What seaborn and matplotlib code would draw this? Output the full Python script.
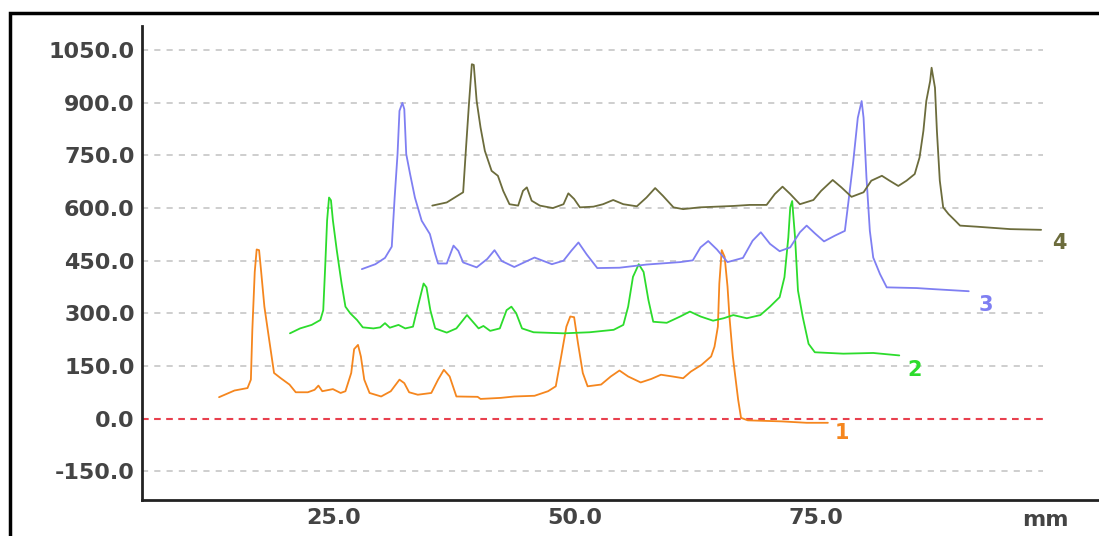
import numpy as np
import matplotlib
matplotlib.use("Agg")
import matplotlib.pyplot as plt
from matplotlib.patches import Rectangle
import seaborn as sns

# trace 1 (orange)
x1 = [13.1, 14.7, 16.05, 16.4, 16.55, 16.8, 17.0, 17.25, 17.45, 17.8, 18.3, 18.8, 19.5, 20.4,
      21.05, 22.3, 23.0, 23.4, 23.8, 24.9, 25.7, 26.2, 26.8, 27.1, 27.5, 27.8, 28.15, 28.7,
      29.9, 30.9, 31.8, 32.3, 32.8, 33.7, 35.1, 35.8, 36.4, 37.0, 37.7, 39.9, 40.2, 42.3,
      43.7, 45.8, 47.2, 48.0, 48.5, 49.1, 49.5, 49.9, 50.3, 50.8, 51.3, 52.7, 53.7, 54.6,
      55.5, 56.8, 57.9, 58.9, 60.1, 61.2, 62.0, 63.1, 64.1, 64.45, 64.8, 64.95, 65.2, 65.5,
      65.8, 66.0, 66.35, 66.9, 67.2, 67.9, 71.4, 74.0, 76.2]
y1 = [61, 80, 87, 111, 253, 418, 482, 480, 423, 319, 224, 130, 115, 97,
      75, 75, 82, 94, 78, 84, 73, 78, 130, 198, 210, 177, 111, 73,
      63, 78, 111, 101, 75, 68, 73, 111, 139, 120, 63, 62, 56, 59,
      63, 65, 78, 92, 168, 262, 291, 289, 215, 130, 92, 97, 120, 137,
      120, 103, 113, 125, 120, 115, 134, 153, 177, 205, 262, 385, 480, 461,
      376, 290, 177, 54, 2, -5, -8, -12, -12]

# trace 2 (green)
x2 = [20.45, 21.5, 22.7, 23.6, 23.9, 24.1, 24.3, 24.5, 24.7, 24.9, 25.3, 25.8, 26.2, 26.7,
      27.4, 28.0, 29.1, 29.8, 30.3, 30.8, 31.7, 32.4, 33.2, 33.7, 34.3, 34.6, 35.0, 35.5,
      36.7, 37.7, 38.8, 39.4, 40.0, 40.5, 41.2, 42.2, 42.9, 43.4, 43.9, 44.5, 45.7, 48.8,
      51.5, 54.0, 55.0, 55.5, 56.0, 56.6, 57.1, 57.6, 58.1, 59.5, 60.9, 61.9, 63.0, 64.3,
      65.4, 66.4, 67.8, 69.2, 70.2, 71.2, 71.7, 72.1, 72.3, 72.5, 72.8, 73.1, 73.6, 74.2,
      74.85, 77.8, 80.9, 83.6]
y2 = [243, 257, 267, 281, 309, 432, 565, 630, 622, 565, 480, 385, 319, 300,
      281, 260, 257, 260, 272, 259, 267, 257, 262, 319, 385, 374, 309, 257,
      245, 257, 295, 276, 257, 264, 250, 257, 309, 319, 300, 257, 246, 243,
      246, 253, 267, 319, 404, 440, 418, 338, 276, 273, 291, 305, 291, 279,
      286, 295, 286, 295, 319, 346, 403, 516, 602, 620, 516, 365, 289, 213,
      189, 185, 187, 180]

# trace 3 (blue)
x3 = [27.9, 29.3, 30.3, 31.0, 31.3, 31.6, 31.8, 32.1, 32.3, 32.5, 32.9, 33.4, 34.1, 34.95,
      35.5, 35.8, 36.7, 37.4, 37.9, 38.4, 39.8, 40.9, 41.65, 42.4, 43.7, 45.8, 47.6, 48.8,
      49.6, 50.35, 51.2, 52.3, 54.6, 57.4, 60.9, 62.2, 63.0, 63.8, 64.7, 65.8, 67.4, 68.4,
      69.25, 70.2, 71.2, 72.3, 73.3, 74.0, 74.85, 75.8, 76.9, 77.96, 78.3, 78.8, 79.3, 79.7,
      79.9, 80.2, 80.55, 80.9, 81.6, 82.3, 85.4, 87.1, 90.8]
y3 = [426, 440, 458, 490, 630, 754, 877, 900, 882, 754, 697, 630, 564, 526,
      469, 442, 442, 493, 478, 445, 431, 455, 480, 449, 432, 459, 440, 450,
      478, 502, 468, 429, 430, 439, 446, 451, 488, 506, 482, 446, 458, 507,
      531, 498, 477, 488, 531, 550, 528, 505, 521, 535, 611, 725, 857, 905,
      857, 687, 535, 459, 412, 374, 372, 369, 363]

# trace 4 (olive)
x4 = [35.2, 36.7, 38.4, 38.7, 39.0, 39.3, 39.5, 39.8, 40.2, 40.65, 41.35, 42.0, 42.55, 43.2,
      44.1, 44.6, 45.0, 45.5, 46.35, 47.7, 48.8, 49.3, 49.9, 50.5, 51.9, 52.9, 53.95, 55.0,
      56.4, 57.4, 58.3, 59.1, 60.2, 61.2, 62.9, 66.4, 68.1, 69.85, 70.7, 71.5, 72.3, 73.3,
      74.7, 75.5, 76.7, 77.6, 78.65, 79.9, 80.7, 81.8, 82.6, 83.5, 84.35, 85.2, 85.7, 86.1,
      86.4, 86.8, 86.95, 87.3, 87.5, 87.8, 88.15, 88.7, 89.4, 89.9, 91.6, 95.1, 98.3]
y4 = [607, 616, 645, 773, 896, 1010, 1008, 905, 830, 763, 706, 692, 649, 611,
      607, 649, 659, 621, 607, 600, 611, 642, 626, 602, 604, 611, 623, 611,
      605, 630, 657, 635, 602, 597, 602, 606, 609, 609, 640, 661, 640, 611,
      623, 649, 680, 659, 632, 645, 678, 692, 678, 663, 678, 697, 744, 820,
      905, 962, 1000, 943, 820, 678, 602, 583, 564, 550, 547, 540, 538]

trace_names = ["1", "2", "3", "4"]
trace_colors = ["#f5861e", "#2cdc2c", "#7f7ff2", "#6c6c3c"]
label_x = [77.7, 85.2, 92.6, 100.2]
label_y = [-41, 138, 324, 500]

y_ticks = [-150, 0, 150, 300, 450, 600, 750, 900, 1050]
x_ticks = [25, 50, 75]

sns.set_style("white")
plt.rcParams["font.family"] = ["DejaVu Sans"]

fig = plt.figure(figsize=(10.99, 5.36), dpi=100)
ax = fig.add_axes([0.1289, 0.0672, 0.8711, 0.885])

# grid lines stop short of the right end of the x axis
x_grid_end = 98.5
for t in y_ticks:
    if t == 0:
        continue
    ax.plot([5.08, x_grid_end], [t, t], color="#cacaca", linewidth=1.3,
            dashes=(3.4, 3.4), zorder=1)
ax.plot([5.08, x_grid_end], [0, 0], color="#e8404e", linewidth=1.5,
        dashes=(3.2, 2.6), zorder=1)

series = [(x1, y1), (x2, y2), (x3, y3), (x4, y4)]
for (xs, ys), c in zip(series, trace_colors):
    sns.lineplot(x=xs, y=ys, color=c, linewidth=1.3, estimator=None,
                 sort=False, ax=ax, zorder=3)

for name, c, lx, ly in zip(trace_names, trace_colors, label_x, label_y):
    ax.text(lx, ly, name, color=c, fontsize=15, fontweight="bold",
            ha="center", va="center")

ax.set_xlim(5.08, 104.3)
ax.set_ylim(-232, 1120)
ax.set_xticks(x_ticks)
ax.set_yticks(y_ticks)
ax.set_xticklabels([f"{t:.1f}" for t in x_ticks])
ax.set_yticklabels([f"{t:.1f}" for t in y_ticks])
ax.tick_params(axis="both", labelsize=16, colors="#333333", length=3, width=1.2)
for lab in ax.get_xticklabels() + ax.get_yticklabels():
    lab.set_fontweight("bold")
    lab.set_color("#444444")
ax.tick_params(axis="y", pad=2)
ax.tick_params(axis="x", pad=3)
for s in ["top", "right"]:
    ax.spines[s].set_visible(False)
for s in ["left", "bottom"]:
    ax.spines[s].set_color("#222222")
    ax.spines[s].set_linewidth(2)
ax.set_xlabel("")
ax.set_ylabel("")

fig.text(1045 / 1099, 1 - 520 / 536, "mm", fontsize=16, fontweight="bold",
         color="#444444", ha="center", va="center")

# outer frame, cut by the right and bottom edges
frame = Rectangle((10 / 1099, -0.1), 1.2, 1.1 - 13 / 536, transform=fig.transFigure,
                  fill=False, edgecolor="black", linewidth=2.5, zorder=10)
fig.patches.append(frame)

fig.savefig("out.png", dpi=100)
plt.close(fig)
